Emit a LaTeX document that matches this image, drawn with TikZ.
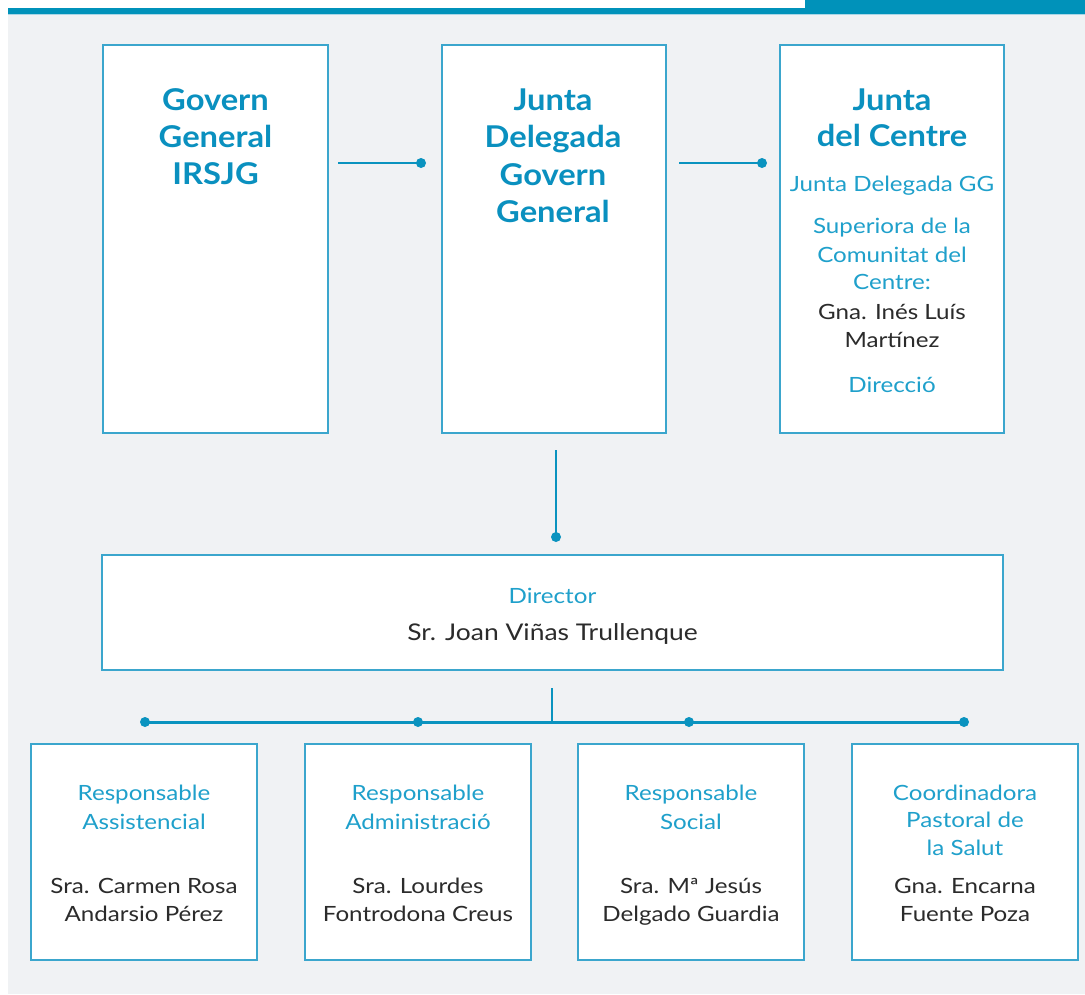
\documentclass[tikz,border=0pt]{standalone}
\usepackage{fontspec}
\setmainfont{Lato}[FakeStretch=1.15]
\newfontfamily\titfont{Lato}[FakeStretch=1.09]
\definecolor{bgc}{HTML}{F0F2F4}
\definecolor{bandc}{HTML}{0092BA}
\definecolor{bandl}{HTML}{A9D6E6}
\definecolor{boxc}{HTML}{3BA6CD}
\definecolor{titc}{HTML}{0A90BF}
\definecolor{bluet}{HTML}{1FA0CB}
\definecolor{darkt}{HTML}{2B2B2B}
\definecolor{linec}{HTML}{0A93BF}
\tikzset{
  boxnode/.style={draw=boxc, line width=1.3pt, fill=white, rectangle, inner sep=0pt},
  tit/.style={anchor=base, inner sep=0pt, text=titc, font=\titfont\fontsize{30}{36}\selectfont\bfseries},
  bt/.style={anchor=base, inner sep=0pt, text=bluet, font=\fontsize{21}{27}\selectfont},
  dt/.style={anchor=base, inner sep=0pt, text=darkt, font=\fontsize{21}{27}\selectfont},
  dtbig/.style={anchor=base, inner sep=0pt, text=darkt, font=\fontsize{23}{28}\selectfont},
  conn/.style={draw=linec, line width=2pt},
  connthick/.style={draw=linec, line width=3pt},
  dot/.style={fill=linec}
}
\begin{document}
\begin{tikzpicture}[x=1pt,y=-1pt]
\useasboundingbox (0,0) rectangle (1085,994);
\fill[white] (0,0) rectangle (1085,994);
\fill[bgc] (8,14) rectangle (1085,994);
\fill[bandc] (8,8) rectangle (1085,14);
\fill[bandc] (805,0) rectangle (1085,14);
\draw[bandl, line width=1pt] (8,14.5) -- (1085,14.5);

% top boxes
\node[boxnode, minimum width=225pt, minimum height=388pt] (gg) at (215.5,239) {};
\node[boxnode, minimum width=224pt, minimum height=388pt] (jd) at (554,239) {};
\node[boxnode, minimum width=224pt, minimum height=388pt] (jc) at (892,239) {};

\node[tit] (gg1) at (215.5,110) {Govern};
\node[tit] (gg2) at (215.5,147) {General};
\node[tit] (gg3) at (215.5,184) {IRSJG};

\node[tit] (jd1) at (553,110) {Junta};
\node[tit] (jd2) at (553,147) {Delegada};
\node[tit] (jd3) at (553,185) {Govern};
\node[tit] (jd4) at (553,222) {General};

\node[tit] (jc1) at (892,110) {Junta};
\node[tit] (jc2) at (892,146) {del Centre};
\node[bt] (jc3) at (892,191) {Junta Delegada GG};
\node[bt] (jc4) at (892,233) {Superiora de la};
\node[bt] (jc5) at (892,262) {Comunitat del};
\node[bt] (jc6) at (892,289) {Centre:};
\node[dt] (jc7) at (892,319) {Gna. Inés Luís};
\node[dt] (jc8) at (892,347) {Martínez};
\node[bt] (jc9) at (892,392) {Direcció};

% top connectors
\coordinate (a1) at (338,163); \coordinate (a2) at (421,163);
\coordinate (b1) at (679,163); \coordinate (b2) at (762,163);
\coordinate (v1) at (556,450); \coordinate (v2) at (556,537);
\draw[conn] (a1) -- (a2);
\draw[conn] (b1) -- (b2);
\draw[conn] (v1) -- (v2);
\fill[dot] (a2) circle (5);
\fill[dot] (b2) circle (5);
\fill[dot] (v2) circle (5);

% director
\node[boxnode, minimum width=901pt, minimum height=115pt] (dir) at (552.5,612.5) {};
\node[bt] (dir1) at (552.5,603) {Director};
\node[dtbig] (dir2) at (552.5,640) {Sr. Joan Viñas Trullenque};

% bottom connectors
\coordinate (h0) at (552,688); \coordinate (hc) at (552,722);
\coordinate (d1) at (145,722); \coordinate (d2) at (418,722);
\coordinate (d3) at (689,722); \coordinate (d4) at (964,722);
\draw[conn] (h0) -- (hc);
\draw[connthick] (d1) -- (d4);
\foreach \d in {d1,d2,d3,d4} \fill[dot] (\d) circle (5);

% bottom boxes
\node[boxnode, minimum width=226pt, minimum height=216pt] (r1) at (144,852) {};
\node[boxnode, minimum width=226pt, minimum height=216pt] (r2) at (418,852) {};
\node[boxnode, minimum width=226pt, minimum height=216pt] (r3) at (691,852) {};
\node[boxnode, minimum width=226pt, minimum height=216pt] (r4) at (965,852) {};

\node[bt] (r1a) at (144,800) {Responsable};
\node[bt] (r1b) at (144,829) {Assistencial};
\node[dt] (r1c) at (144,893) {Sra. Carmen Rosa};
\node[dt] (r1d) at (144,921) {Andarsio Pérez};

\node[bt] (r2a) at (418,800) {Responsable};
\node[bt] (r2b) at (418,829) {Administració};
\node[dt] (r2c) at (418,893) {Sra. Lourdes};
\node[dt] (r2d) at (418,921) {Fontrodona Creus};

\node[bt] (r3a) at (691,800) {Responsable};
\node[bt] (r3b) at (691,829) {Social};
\node[dt] (r3c) at (691,893) {Sra. Mª Jesús};
\node[dt] (r3d) at (691,921) {Delgado Guardia};

\node[bt] (r4a) at (965,800) {Coordinadora};
\node[bt] (r4b) at (965,827) {Pastoral de};
\node[bt] (r4c) at (965,855) {la Salut};
\node[dt] (r4d) at (965,893) {Gna. Encarna};
\node[dt] (r4e) at (965,921) {Fuente Poza};
\end{tikzpicture}
\end{document}
